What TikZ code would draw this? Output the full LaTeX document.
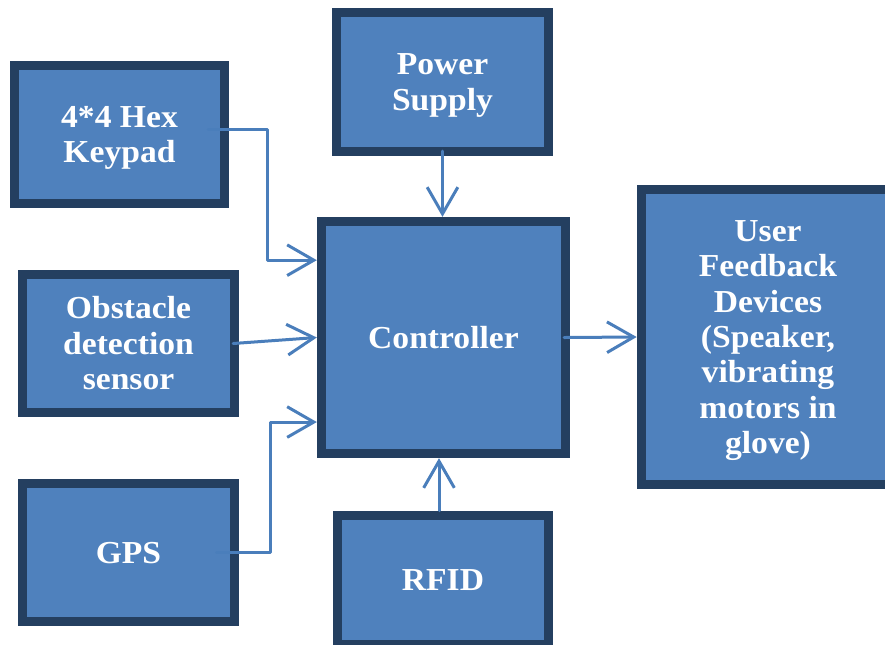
\documentclass[tikz,border=0pt]{standalone}
\usepackage{fontspec}
\setmainfont{Liberation Serif}[BoldFont={Liberation Serif Bold}, FakeStretch=1.05]
\usetikzlibrary{arrows.meta}
\definecolor{boxfill}{HTML}{4F81BD}
\definecolor{boxline}{HTML}{243F60}
\definecolor{arrcol}{HTML}{4A7EBB}
\tikzset{
  blk/.style={draw=boxline, fill=boxfill, line width=7pt, text=white,
    font=\bfseries\fontsize{24}{26.5}\selectfont, align=center, inner sep=0pt,
    text height=15.9pt, text depth=0pt},
  two/.style={text height=42.4pt},
  three/.style={text height=68.9pt},
  seven/.style={text height=174.9pt},
  arr/.style={draw=arrcol, line width=2.25pt, line cap=round, line join=round,
    -{Straight Barb[length=20pt,width=23pt,line width=2.25pt]}}
}
\begin{document}
\begin{tikzpicture}[x=0.75pt,y=-0.75pt]
\useasboundingbox (0,0) rectangle (885,644);
\clip (0,0) rectangle (885,644);
\node[blk, two, minimum width=157.5pt, minimum height=103.5pt] (key) at (119.5,134.5) {4*4 Hex\\Keypad};
\node[blk, two, minimum width=159pt, minimum height=104.5pt] (pow) at (442.5,82) {Power\\Supply};
\node[blk, three, minimum width=159pt, minimum height=103.5pt] (obs) at (128.5,343.5) {Obstacle\\detection\\sensor};
\node[blk, minimum width=159pt, minimum height=103.5pt] (gps) at (128.5,552.5) {GPS};
\node[blk, minimum width=183pt, minimum height=174pt] (ctrl) at (443.5,337.5) {Controller};
\node[blk, minimum width=158.5pt, minimum height=97pt] (rfid) at (443,580) {RFID};
\node[blk, seven, minimum width=190pt, minimum height=221.5pt] (fb) at (768,337) {User\\Feedback\\Devices\\(Speaker,\\vibrating\\motors in\\glove)};
\draw[arr] ([shift={(-15.75pt,4.1pt)}]key.east) -- ++(44.25pt,0) |- ([yshift=58pt]ctrl.west);
\draw[arr] ([xshift=-4.5pt]obs.east) -- (ctrl.west);
\draw[arr] ([xshift=-17pt]gps.east) -- ++(40.5pt,0) |- ([yshift=-63.4pt]ctrl.west);
\draw[arr] ([yshift=4pt]pow.south) -- (pow.south |- ctrl.north);
\draw[arr] ([xshift=-3pt]rfid.north) -- ([xshift=-3pt]rfid.north |- ctrl.south);
\draw[arr] ([xshift=-4.5pt]ctrl.east) -- (fb.west);
\end{tikzpicture}
\end{document}
